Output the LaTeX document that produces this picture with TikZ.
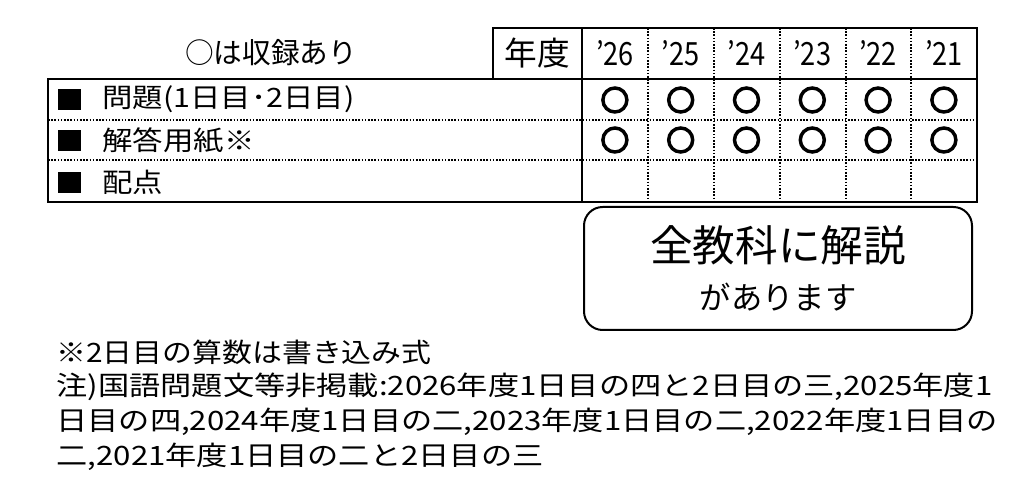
\documentclass[tikz,border=0pt]{standalone}
\usepackage{fontspec}
\setmainfont{Noto Sans CJK JP}
\tikzset{every picture/.style={line width=0.75pt}}
\tikzset{
  thick line/.style={line width=2.2pt},
  dot line/.style={line width=1.6pt, dash pattern={on 1.2pt off 1.2pt}},
  maru/.style={circle, draw, line width=2.6pt, minimum size=18pt, inner sep=0pt},
  cell text/.style={anchor=west, inner sep=0.75pt, font=\fontsize{20}{22}\selectfont},
  year text/.style={inner sep=0.75pt, font=\fontsize{24}{26}\selectfont}
}
\newcommand{\wide}[2]{\scalebox{#1}[1]{#2}}
\begin{document}
\begin{tikzpicture}[x=0.75pt,y=0.75pt,yscale=-1,xscale=1]
\useasboundingbox (0,0) rectangle (1028,498);

%Header boxes
\draw [thick line] (493,28) rectangle (582,79);
\draw [thick line] (582,28) rectangle (977,79);
%Main table
\draw [thick line] (48,79) rectangle (582,202);
\draw [thick line] (582,79) rectangle (977,202);
\foreach \y in {120,160} {
  \draw [dot line] (48,\y) -- (977,\y);
}
\foreach \x in {648,714,780,846,911} {
  \draw [dot line] (\x,28) -- (\x,202);
}

% Text Node
\draw (271,53) node [inner sep=0.75pt, font=\fontsize{21.5}{22}\selectfont] (note) {○は収録あり};
% Text Node
\draw (537,53) node [inner sep=0.75pt, font=\fontsize{24.5}{26}\selectfont] (nendo) {年度};
% row labels
\foreach \t [count=\i] in {問題(1日目･2日目),解答用紙※,配点} {
  \fill (58,{79+(\i-1)*41.3+10}) rectangle +(23,21);
  \draw (101,{79+(\i-0.5)*41.3}) node [cell text] (row\i) {\wide{1.14}{\t}};
}
% years and marks
\foreach \yr [count=\i] in {26,25,24,23,22,21} {
  \draw ({582+(\i-0.5)*65.8},53) node [year text] (yr\i) {\wide{0.85}{’\yr}};
  \node [maru] (a\i) at ({582+(\i-0.5)*65.8},100) {};
  \node [maru] (b\i) at ({582+(\i-0.5)*65.8},140) {};
}

%Rounded box
\draw [line width=1.5pt, rounded corners=14pt] (584,207) rectangle (972,330);
% Text Node
\draw (778,245) node [inner sep=0.75pt, font=\fontsize{32}{34}\selectfont] (kaisetsu) {全教科に解説};
% Text Node
\draw (778,297) node [inner sep=0.75pt, font=\fontsize{23.5}{25}\selectfont] (arimasu) {があります};

% Notes
\draw (55,352) node [cell text] (n1) {\wide{1.12}{※2日目の算数は書き込み式}};
\draw (55,387) node [cell text] (n2) {\wide{1.17}{注)国語問題文等非掲載:2026年度1日目の四と2日目の三,2025年度1}};
\draw (55,422) node [cell text] (n3) {\wide{1.17}{日目の四,2024年度1日目の二,2023年度1日目の二,2022年度1日目の}};
\draw (55,457) node [cell text] (n4) {\wide{1.17}{二,2021年度1日目の二と2日目の三}};
\end{tikzpicture}
\end{document}
